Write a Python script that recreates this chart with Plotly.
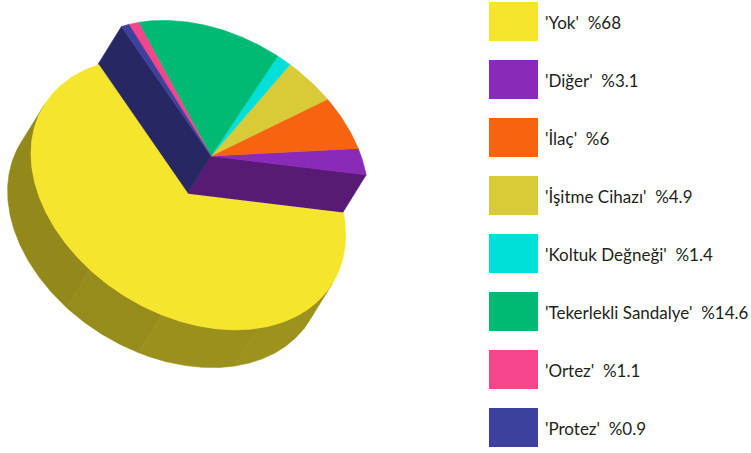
import numpy as np
import plotly.graph_objects as go

# Data
labels = ["Yok", "Diğer", "İlaç", "İşitme Cihazı", "Koltuk Değneği",
          "Tekerlekli Sandalye", "Ortez", "Protez"]
percents = [68, 3.1, 6, 4.9, 1.4, 14.6, 1.1, 0.9]
colors = ["#f5e52c", "#8a2ab8", "#f7630f", "#d9cb37", "#00e0d8",
          "#00ba74", "#f5468c", "#3d409c"]
pull = [0.37, 0, 0, 0, 0, 0, 0, 0]

# Canvas / pie geometry (pixel space)
W, H = 751, 453
CX, CY = 211.0, 156.0          # centre of the top face
RX, RY = 169.5, 120.1          # ellipse semi-axes of the top face
TILT = np.radians(31.8)        # on-screen rotation of the disc
DEPTH = 44.4                   # thickness of the disc
START = 148.4                  # start angle of first slice (deg, counterclockwise)


def darken(hex_color, f):
    h = hex_color.lstrip("#")
    r, g, b = (int(h[i:i + 2], 16) for i in (0, 2, 4))
    return "#%02x%02x%02x" % (int(r * f), int(g * f), int(b * f))


def to_screen(u, v, drop=0.0):
    """u along the major axis, v upward in the disc frame; drop pushes down through the disc."""
    w = -np.asarray(v) + drop
    u = np.asarray(u)
    x = CX + u * np.cos(TILT) - w * np.sin(TILT)
    y = CY + u * np.sin(TILT) + w * np.cos(TILT)
    return x, y


def rim(t_deg, off, drop=0.0):
    t = np.radians(t_deg)
    return to_screen(RX * np.cos(t) + off[0], RY * np.sin(t) + off[1], drop)


total = float(sum(percents))
spans = []
a = START
for p in percents:
    b = a + 360.0 * p / total
    spans.append((a, b))
    a = b

offsets = []
for (t1, t2), e in zip(spans, pull):
    tb = np.radians((t1 + t2) / 2)
    offsets.append((e * RX * np.cos(tb), e * RY * np.sin(tb)))

fig = go.Figure()


def poly(xs, ys, color, name):
    xs = list(xs) + [xs[0]]
    ys = list(ys) + [ys[0]]
    fig.add_trace(go.Scatter(
        x=xs, y=ys, mode="lines", fill="toself", fillcolor=color,
        line=dict(width=0.6, color=color), hoverinfo="text", text=name,
        showlegend=False))


n = len(percents)

# Radial cut faces exposed by a pulled slice
for i in range(n):
    t1, t2 = spans[i]
    off = offsets[i]
    prev_i, next_i = (i - 1) % n, (i + 1) % n
    for t, normal_sign, nb in ((t1, 1, prev_i), (t2, -1, next_i)):
        if pull[i] == pull[nb]:
            continue
        tr = np.radians(t)
        nv = -normal_sign * np.cos(tr)  # v-component of the face normal
        if nv >= 0:
            continue
        cx0, cy0 = to_screen(off[0], off[1])
        cx1, cy1 = to_screen(off[0], off[1], DEPTH)
        rx0, ry0 = rim(t, off)
        rx1, ry1 = rim(t, off, DEPTH)
        poly([cx0, float(rx0), float(rx1), cx1], [cy0, float(ry0), float(ry1), cy1],
             darken(colors[i], 0.64), labels[i])

# Top faces of the slices that stay in place
def top_face(i):
    t1, t2 = spans[i]
    off = offsets[i]
    ts = np.linspace(t1, t2, max(8, int((t2 - t1) * 2)))
    xs, ys = rim(ts, off)
    c0 = to_screen(off[0], off[1])
    poly([c0[0]] + list(xs), [c0[1]] + list(ys), colors[i],
         f"{labels[i]}: %{percents[i]:g}")


for i in range(n):
    if pull[i] == 0:
        top_face(i)

# Outer walls (only the front half of the rim is visible)
cuts = [180, 255, 284, 320, 355.5, 360]
shade = [0.60, 0.615, 0.63, 0.64, 0.64]
for i in range(n):
    t1, t2 = spans[i]
    off = offsets[i]
    for k in (-360, 0, 360):
        for s in range(len(cuts) - 1):
            lo = max(t1, cuts[s] + k)
            hi = min(t2, cuts[s + 1] + k)
            if hi - lo <= 0.01:
                continue
            ts = np.linspace(lo, hi, max(4, int((hi - lo) * 2)))
            xt, yt = rim(ts, off)
            xb, yb = rim(ts[::-1], off, DEPTH)
            poly(list(xt) + list(xb), list(yt) + list(yb),
                 darken(colors[i], shade[s]), labels[i])

# Top faces of pulled slices last (they sit in front)
for i in range(n):
    if pull[i] != 0:
        top_face(i)

# Legend: colour boxes with labels
BOX_X0, BOX_X1 = 489, 538
ROW0, ROW_H, STEP = 2, 39, 58
for i, (lab, p, c) in enumerate(zip(labels, percents, colors)):
    y0 = ROW0 + STEP * i
    fig.add_shape(type="rect", xref="x", yref="y", x0=BOX_X0, x1=BOX_X1,
                  y0=y0, y1=y0 + ROW_H, fillcolor=c, line=dict(width=0))
    fig.add_annotation(x=BOX_X1 + 5, y=y0 + ROW_H / 2 + 0.5, xref="x", yref="y",
                       text=f"'{lab}' \u00a0%{p:g}", showarrow=False,
                       xanchor="left", yanchor="middle",
                       font=dict(family="Lato", size=17, color="#231f20"))

fig.update_layout(
    width=W, height=H, margin=dict(l=0, r=0, t=0, b=0),
    paper_bgcolor="white", plot_bgcolor="white", showlegend=False,
    xaxis=dict(range=[0, W], visible=False, fixedrange=True),
    yaxis=dict(range=[H, 0], visible=False, fixedrange=True),
)

fig.write_html("out.html")
